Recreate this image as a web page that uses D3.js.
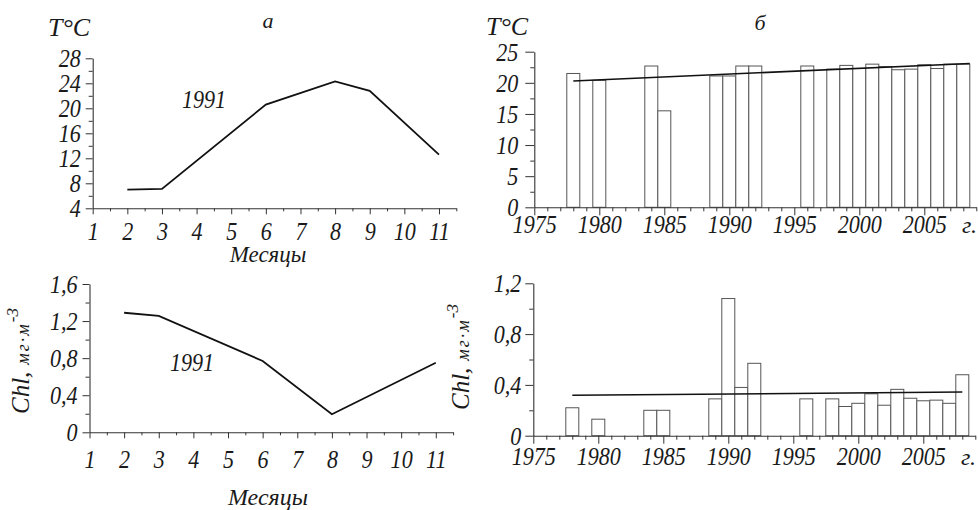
<!DOCTYPE html>
<html><head><meta charset="utf-8">
<script src="https://cdn.jsdelivr.net/npm/d3@7"></script>
<style>body{margin:0;background:#fff}svg{display:block}</style>
</head><body>
<svg id="c" width="978" height="510"></svg>
<script>
// ---- data ----
const months = [1,2,3,4,5,6,7,8,9,10,11];
const tMonths = [2,3,6,8,9,11];
const tValues = [7.0,7.1,20.6,24.3,22.8,12.6];
const chlMonths = [2,3,6,8,11];
const chlValues = [1.29,1.255,0.77,0.195,0.75];

const years = [1978,1980,1984,1985,1989,1990,1991,1992,1996,1998,1999,2000,2001,2002,2003,2004,2005,2006,2007,2008];
const tempYear = [21.5,20.4,22.7,15.5,21.1,21.1,22.7,22.7,22.7,22.2,22.8,22.3,23.0,22.6,22.1,22.2,22.9,22.3,23.0,23.0];
const chlYear = [0.22,0.13,0.20,0.20,0.29,1.08,0.38,0.57,0.29,0.29,0.23,0.255,0.33,0.24,0.365,0.295,0.275,0.28,0.255,0.48];
const tTrendYears = [1978,2008.5];
const tTrendValues = [20.3,23.1];
const chlTrendYears = [1978,2008];
const chlTrendValues = [0.318,0.344];

const tMonthTicks = [4,8,12,16,20,24,28];
const tMonthLabels = ["4","8","12","16","20","24","28"];
const chlMonthTicks = [0,0.4,0.8,1.2,1.6];
const chlMonthLabels = ["0","0,4","0,8","1,2","1,6"];
const tYearTicks = [0,5,10,15,20,25];
const tYearLabels = ["0","5","10","15","20","25"];
const chlYearTicks = [0,0.4,0.8,1.2];
const chlYearLabels = ["0","0,4","0,8","1,2"];
const yearTicks = [1975,1980,1985,1990,1995,2000,2005];
const yearLabels = ["1975","1980","1985","1990","1995","2000","2005"];

// ---- drawing ----
const svg = d3.select("#c");
const FONT = "'Liberation Serif', 'Times New Roman', serif";
const SX = 0.85;
const AX = "#333";

function styleAxis(g){
  g.selectAll("path.domain").attr("stroke",AX).attr("stroke-width",1.1);
  g.selectAll(".tick line").attr("stroke",AX).attr("stroke-width",1);
}
function xAxis(x, y0, major, labels, minor, labOff, majLen, minLen){
  const g = svg.append("g").attr("transform",`translate(0,${y0})`)
    .call(d3.axisBottom(x).tickValues(major).tickSize(majLen).tickSizeOuter(0).tickFormat((d,i)=>labels[i]));
  styleAxis(g);
  g.selectAll("text").style("font-family",FONT).style("font-style","italic").style("font-size","26px")
    .attr("fill","#1a1a1a").attr("y",labOff).attr("dy",0).attr("transform",`scale(${SX},1)`);
  const m = svg.append("g").attr("transform",`translate(0,${y0})`)
    .call(d3.axisBottom(x).tickValues(minor).tickSize(minLen).tickSizeOuter(0).tickFormat(""));
  m.select("path.domain").remove(); styleAxis(m);
}
function yAxis(y, x0, major, labels, minor, labGap, majLen, minLen){
  const g = svg.append("g").attr("transform",`translate(${x0},0)`)
    .call(d3.axisLeft(y).tickValues(major).tickSize(majLen).tickSizeOuter(0).tickFormat((d,i)=>labels[i]));
  styleAxis(g);
  g.selectAll("text").style("font-family",FONT).style("font-style","italic").style("font-size","26px")
    .attr("fill","#1a1a1a").attr("x",-labGap/SX).attr("y",8.5).attr("dy",0).attr("transform",`scale(${SX},1)`);
  const m = svg.append("g").attr("transform",`translate(${x0},0)`)
    .call(d3.axisLeft(y).tickValues(minor).tickSize(minLen).tickSizeOuter(0).tickFormat(""));
  m.select("path.domain").remove(); styleAxis(m);
}
function txt(x,y,s,size,opts={}){
  const t = svg.append("text").attr("x",x).attr("y",y).style("font-family",FONT)
    .style("font-style","italic").style("font-size",size+"px").attr("fill","#1a1a1a")
    .attr("text-anchor",opts.anchor||"start").text(s);
  if(opts.sx) t.attr("transform",`translate(${x},${y}) scale(${opts.sx},1) translate(${-x},${-y})`);
  return t;
}
function chlLabel(tx,ty){
  const t = svg.append("text").attr("transform",`translate(${tx},${ty}) rotate(-90)`)
    .attr("text-anchor","middle").style("font-family",FONT).style("font-style","italic").attr("fill","#1a1a1a");
  t.append("tspan").style("font-size","25px").text("Chl,");
  t.append("tspan").style("font-size","18px").attr("letter-spacing",2).attr("dx",7).text("мг·м");
  t.append("tspan").style("font-size","17px").attr("dy",-11).text("-3");
}
const halfMonths = d3.range(1.5,11.6,1);

// Panel a (top-left)
{
  const x = d3.scaleLinear().domain([1,11.5]).range([92.7,456.3]);
  const y = d3.scaleLinear().domain([4,28]).range([208.3,58.3]);
  yAxis(y, 92.7, tMonthTicks, tMonthLabels, d3.range(6,27,4), 12, 7, 4);
  xAxis(x, 208.3, months, months.map(String), halfMonths, 32, 6, 3);
  svg.append("path").datum(tMonths.map((m,i)=>[m,tValues[i]]))
    .attr("d", d3.line().x(d=>x(d[0])).y(d=>y(d[1])))
    .attr("fill","none").attr("stroke","#111").attr("stroke-width",1.8);
  txt(204,108,"1991",26,{anchor:"middle",sx:SX});
  txt(48,36,"T°C",26);
  txt(268,28,"а",22,{anchor:"middle"});
  txt(268,262,"Месяцы",23,{anchor:"middle"});
}
// Panel a (bottom-left)
{
  const x = d3.scaleLinear().domain([1,11.5]).range([89.5,453.1]);
  const y = d3.scaleLinear().domain([0,1.6]).range([432.3,284]);
  yAxis(y, 89.5, chlMonthTicks, chlMonthLabels, [0.2,0.6,1.0,1.4], 12, 7, 4);
  xAxis(x, 432.3, months, months.map(String), halfMonths, 36, 6, 3);
  svg.append("path").datum(chlMonths.map((m,i)=>[m,chlValues[i]]))
    .attr("d", d3.line().x(d=>x(d[0])).y(d=>y(d[1])))
    .attr("fill","none").attr("stroke","#111").attr("stroke-width",1.8);
  txt(192,371,"1991",26,{anchor:"middle",sx:SX});
  txt(268,505,"Месяцы",24,{anchor:"middle"});
  chlLabel(29,361);
}
const allYears = d3.range(1975,2010);
// Panel б (top-right)
{
  const x = d3.scaleLinear().domain([1975,2009]).range([534.3,976.3]);
  const y = d3.scaleLinear().domain([0,25]).range([207.3,51.7]);
  const bw = x(1976)-x(1975);
  svg.append("g").selectAll("rect").data(years).join("rect")
    .attr("x",d=>x(d)-bw/2).attr("width",bw)
    .attr("y",(d,i)=>y(tempYear[i])).attr("height",(d,i)=>y(0)-y(tempYear[i]))
    .attr("fill","#fff").attr("stroke","#555").attr("stroke-width",1);
  yAxis(y, 534.3, tYearTicks, tYearLabels, [2.5,7.5,12.5,17.5,22.5], 16, 9, 4);
  xAxis(x, 207.3, yearTicks, yearLabels, allYears.filter(d=>d%5), 26, 8, 4);
  svg.append("path").datum(tTrendYears.map((d,i)=>[d,tTrendValues[i]]))
    .attr("d", d3.line().x(d=>x(d[0])).y(d=>y(d[1])))
    .attr("fill","none").attr("stroke","#111").attr("stroke-width",1.6);
  txt(486,35,"T°C",26);
  txt(760,30,"б",22,{anchor:"middle"});
  txt(962,233,"г.",24);
}
// Panel б (bottom-right)
{
  const x = d3.scaleLinear().domain([1975,2009]).range([533.3,975.3]);
  const y = d3.scaleLinear().domain([0,1.2]).range([435.7,283.3]);
  const bw = x(1976)-x(1975);
  svg.append("g").selectAll("rect").data(years).join("rect")
    .attr("x",d=>x(d)-bw/2).attr("width",bw)
    .attr("y",(d,i)=>y(chlYear[i])).attr("height",(d,i)=>y(0)-y(chlYear[i]))
    .attr("fill","#fff").attr("stroke","#555").attr("stroke-width",1);
  yAxis(y, 533.3, chlYearTicks, chlYearLabels, [0.2,0.6,1.0], 12, 8, 4);
  xAxis(x, 435.7, yearTicks, yearLabels, allYears.filter(d=>d%5), 29, 8, 4);
  svg.append("path").datum(chlTrendYears.map((d,i)=>[d,chlTrendValues[i]]))
    .attr("d", d3.line().x(d=>x(d[0])).y(d=>y(d[1])))
    .attr("fill","none").attr("stroke","#111").attr("stroke-width",1.6);
  txt(961,465,"г.",24);
  chlLabel(469,357);
}
</script>
</body></html>
